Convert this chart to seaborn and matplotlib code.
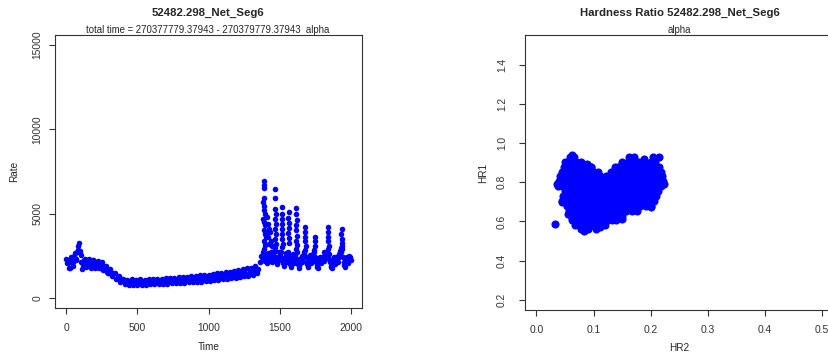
import matplotlib
matplotlib.use("Agg")
import matplotlib.pyplot as plt
import pandas as pd
import seaborn as sns

# ---- light curve (10 s bins) ----
time_s = list(range(0, 2001, 10))
rate_cts = [
    2300, 2050, 1800, 2450, 2150, 1900, 2650, 2300, 2850, 3250,
    2550, 1700, 2050, 2300, 1850, 2050, 2300, 1800, 2050, 2250,
    1800, 2000, 2200, 1750, 1950, 2100, 1650, 1800, 1900, 1500,
    1650, 1700, 1300, 1450, 1500, 1100, 1250, 1300, 950, 1050,
    1100, 800, 950, 1080, 780, 930, 1100, 760, 920, 1080,
    780, 940, 1100, 770, 930, 1090, 790, 950, 1110, 800,
    960, 1120, 810, 960, 1130, 820, 980, 1150, 830, 990,
    1160, 840, 1000, 1180, 860, 1020, 1200, 870, 1040, 1220,
    890, 1060, 1240, 900, 1080, 1260, 920, 1100, 1280, 930,
    1120, 1300, 950, 1140, 1330, 970, 1160, 1350, 990, 1180,
    1380, 1010, 1210, 1410, 1040, 1240, 1450, 1070, 1270, 1480,
    1100, 1310, 1520, 1130, 1350, 1560, 1160, 1380, 1600, 1200,
    1420, 1650, 1240, 1460, 1700, 1270, 1500, 1750, 1310, 1550,
    1800, 1380, 1620, 1880, 1480, 1720, 2100, 2500, 2250, 2900,
    2450, 2050, 2650, 2300, 2750, 2150, 2500, 2950, 2000, 2450,
    2250, 2750, 2350, 1900, 2450, 2150, 2750, 2250, 1850, 2300,
    2050, 2550, 2750, 2000, 1800, 2350, 2100, 2600, 2850, 2150,
    1850, 2300, 2050, 2500, 2750, 2400, 1950, 1800, 2250, 2050,
    2450, 2200, 2650, 2500, 2900, 2300, 1900, 1800, 2250, 2000,
    2400, 2150, 2600, 2750, 2900, 2100, 1850, 2350, 2050, 2500,
    2250,
]

# half-bin samples at the start
early_time = list(range(5, 300, 10))
early_rate = [
    2050, 2250, 1800, 2350, 2100, 2500, 2250, 2700, 3100, 2800,
    2100, 1950, 2250, 2000, 2200, 1950, 2150, 2050, 2250, 1950,
    2150, 1850, 2050, 1950, 1800, 1900, 1750, 1650, 1550, 1450,
]

# half-bin samples during the flaring part
band_time = list(range(1375, 2000, 10))
band_rate = [
    2400, 2700, 2200, 2500, 2300, 2550, 2500, 2350, 2700, 2800,
    2300, 2200, 2700, 2500, 3000, 2050, 2150, 2650, 2400, 2500,
    2000, 2050, 2600, 2350, 2900, 2300, 1900, 2050, 2500, 2350,
    2750, 2450, 2000, 2100, 2550, 2250, 2600, 2850, 2150, 1850,
    2050, 2450, 2200, 2300, 2700, 2400, 2750, 2600, 2100, 1850,
    2050, 2450, 2200, 2300, 2450, 2800, 2950, 2400, 1950, 2100,
    2450, 2200, 2400,
]

# flare peaks
flare_time = [
    1388, 1388, 1390, 1392, 1386, 1394, 1390, 1396, 1384, 1392, 1398, 1388, 1395, 1402, 1390, 1398,
    1410, 1418, 1425, 1432, 1420, 1440, 1428, 1412, 1445,
    1470, 1470, 1468, 1472, 1466, 1474, 1470, 1476, 1468, 1472,
    1517, 1515, 1519, 1517, 1514, 1520, 1516, 1522,
    1564, 1562, 1566, 1564, 1561, 1567, 1564,
    1618, 1616, 1620, 1618, 1615, 1621, 1618, 1624,
    1680, 1678, 1682, 1680, 1684,
    1750, 1748, 1752,
    1842, 1840, 1844, 1842, 1846,
    1936, 1934, 1938, 1936, 1940,
]
flare_rate = [
    6950, 6700, 6500, 5900, 5700, 5450, 5200, 4950, 4700, 4500, 4300, 4050, 3800, 3600, 3400, 3150,
    4800, 4400, 4100, 3900, 3600, 3400, 3200, 3900, 3050,
    6470, 5900, 5300, 5000, 4700, 4400, 4100, 3800, 3500, 3200,
    5400, 5000, 4700, 4400, 4100, 3800, 3500, 3200,
    5070, 4750, 4450, 4150, 3850, 3550, 3250,
    5310, 4950, 4600, 4300, 4000, 3700, 3400, 3150,
    4210, 3900, 3600, 3350, 3100,
    3610, 3350, 3100,
    4210, 3900, 3600, 3350, 3100,
    4110, 3800, 3500, 3250, 3050,
]

# ---- hardness ratios ----
hr1_levels = [0.930, 0.905, 0.880, 0.855, 0.830, 0.805, 0.780, 0.755,
              0.730, 0.705, 0.680, 0.655, 0.630, 0.605, 0.580, 0.560]
hr2_rows = [
    [0.058, 0.066, 0.162, 0.170, 0.215],
    [0.050, 0.060, 0.070, 0.078, 0.150, 0.160, 0.170, 0.180, 0.190, 0.200, 0.208],
    [0.048, 0.056, 0.065, 0.075, 0.085, 0.095, 0.137, 0.145, 0.155, 0.165, 0.175, 0.185, 0.195, 0.205, 0.214],
    [0.045, 0.052, 0.061, 0.070, 0.080, 0.090, 0.100, 0.108, 0.130, 0.138, 0.148, 0.158, 0.168, 0.178,
     0.188, 0.198, 0.208, 0.218],
    [0.042, 0.052, 0.062, 0.072, 0.082, 0.092, 0.102, 0.112, 0.122, 0.132, 0.142, 0.152, 0.162, 0.172, 0.182,
     0.192, 0.202, 0.212, 0.220],
    [0.040, 0.047, 0.057, 0.067, 0.077, 0.087, 0.097, 0.107, 0.117, 0.127, 0.137, 0.147, 0.157, 0.167, 0.177,
     0.187, 0.197, 0.207, 0.217, 0.222],
    [0.037, 0.044, 0.052, 0.062, 0.072, 0.082, 0.092, 0.102, 0.112, 0.122, 0.132, 0.142, 0.152, 0.162, 0.172,
     0.182, 0.192, 0.202, 0.212, 0.218],
    [0.050, 0.057, 0.067, 0.077, 0.087, 0.097, 0.107, 0.117, 0.127, 0.137, 0.147, 0.157, 0.167, 0.177, 0.187,
     0.197, 0.207, 0.213],
    [0.047, 0.054, 0.062, 0.072, 0.082, 0.092, 0.102, 0.112, 0.122, 0.132, 0.142, 0.152, 0.162, 0.172, 0.182,
     0.192, 0.202, 0.210],
    [0.045, 0.057, 0.067, 0.077, 0.087, 0.097, 0.107, 0.117, 0.127, 0.137, 0.147, 0.157, 0.167, 0.177, 0.187,
     0.197, 0.206],
    [0.053, 0.062, 0.072, 0.082, 0.092, 0.102, 0.112, 0.122, 0.132, 0.142, 0.152, 0.162, 0.172, 0.182, 0.192,
     0.200],
    [0.057, 0.067, 0.077, 0.087, 0.097, 0.107, 0.117, 0.127, 0.137, 0.147, 0.157, 0.167, 0.176],
    [0.060, 0.070, 0.080, 0.090, 0.100, 0.110, 0.120, 0.130, 0.140, 0.150],
    [0.063, 0.073, 0.083, 0.093, 0.103, 0.113, 0.123, 0.133, 0.139],
    [0.068, 0.078, 0.088, 0.098, 0.108, 0.120],
    [0.078, 0.090, 0.104],
]
hr2_extra = [0.032, 0.036, 0.044, 0.062, 0.088, 0.096, 0.188,
             0.204, 0.224, 0.200, 0.084, 0.112, 0.150, 0.055, 0.142]
hr1_extra = [0.587, 0.790, 0.700, 0.940, 0.895, 0.880, 0.918,
             0.927, 0.790, 0.672, 0.552, 0.572, 0.615, 0.640, 0.878]

src = "52482.298_Net_Seg6"
t_start, t_stop = "270377779.37943", "270379779.37943"

# ---- tables ----
lc = pd.DataFrame({
    "Time": time_s + early_time + band_time + flare_time,
    "Rate": rate_cts + early_rate + band_rate + flare_rate,
})
hr2_all, hr1_all = [], []
for lvl, row in zip(hr1_levels, hr2_rows):
    hr2_all += row
    hr1_all += [lvl] * len(row)
hr = pd.DataFrame({"HR2": hr2_all + hr2_extra, "HR1": hr1_all + hr1_extra})

# ---- figure ----
sns.set_style("white")
plt.rcParams["font.family"] = ["Liberation Sans", "DejaVu Sans"]

W, H = 829, 355
fig = plt.figure(figsize=(W / 100, H / 100), dpi=100)
ax1 = fig.add_axes([55 / W, 1 - 308 / H, 307 / W, 273 / H])
ax2 = fig.add_axes([525 / W, 1 - 310 / H, 308.6 / W, 275 / H])

sns.scatterplot(data=lc, x="Time", y="Rate", color="#0000ff", s=16,
                linewidth=0, ax=ax1)
sns.scatterplot(data=hr, x="HR2", y="HR1", color="#0000ff", s=34,
                linewidth=0, ax=ax2)

ax1.set_xlim(-80, 2080)
ax1.set_ylim(-600, 15600)
ax1.set_xticks([0, 500, 1000, 1500, 2000])
ax1.set_yticks([0, 5000, 10000, 15000])

ax2.set_xlim(-0.02, 0.52)
ax2.set_ylim(0.148, 1.552)
ax2.set_xticks([0.0, 0.1, 0.2, 0.3, 0.4, 0.5])
ax2.set_xticklabels(["0.0", "0.1", "0.2", "0.3", "0.4", "0.5"])
ax2.set_yticks([0.2, 0.4, 0.6, 0.8, 1.0, 1.2, 1.4])
ax2.set_yticklabels(["0.2", "0.4", "0.6", "0.8", "1.0", "1.2", "1.4"])

for ax, ypad in ((ax1, 5.0), (ax2, 9.0)):
    for sp in ax.spines.values():
        sp.set_visible(True)
        sp.set_color("#333333")
        sp.set_linewidth(0.8)
    ax.tick_params(axis="x", bottom=True, direction="out", length=4, width=0.8,
                   labelsize=7.4, pad=6.5, colors="#333333")
    ax.tick_params(axis="y", left=True, direction="out", length=4, width=0.8,
                   labelsize=7.4, pad=ypad, colors="#333333")
    for lab in ax.get_yticklabels():
        lab.set_rotation(90)
        lab.set_va("center")

ax1.set_xlabel("Time", fontsize=7.2)
ax1.set_ylabel("Rate", fontsize=7.2)
ax1.xaxis.set_label_coords(0.5, -0.143)
ax1.yaxis.set_label_coords(-0.134, 0.5)
ax2.set_xlabel("HR2", fontsize=7.2)
ax2.set_ylabel("HR1", fontsize=7.2)
ax2.xaxis.set_label_coords(0.5, -0.138)
ax2.yaxis.set_label_coords(-0.136, 0.5)
for ax in (ax1, ax2):
    ax.xaxis.label.set_va("center")
    ax.yaxis.label.set_va("center")

fig.text(208 / W, 1 - 13 / H, src, ha="center", va="center",
         fontsize=8.2, fontweight="bold")
fig.text(208 / W, 1 - 30 / H, f"total time = {t_start} - {t_stop}  alpha",
         ha="center", va="center", fontsize=6.9)
fig.text(679.5 / W, 1 - 13 / H, f"Hardness Ratio {src}", ha="center",
         va="center", fontsize=8.2, fontweight="bold")
fig.text(679.5 / W, 1 - 30 / H, "alpha", ha="center", va="center",
         fontsize=6.9)

fig.savefig("out.png", dpi=100)
